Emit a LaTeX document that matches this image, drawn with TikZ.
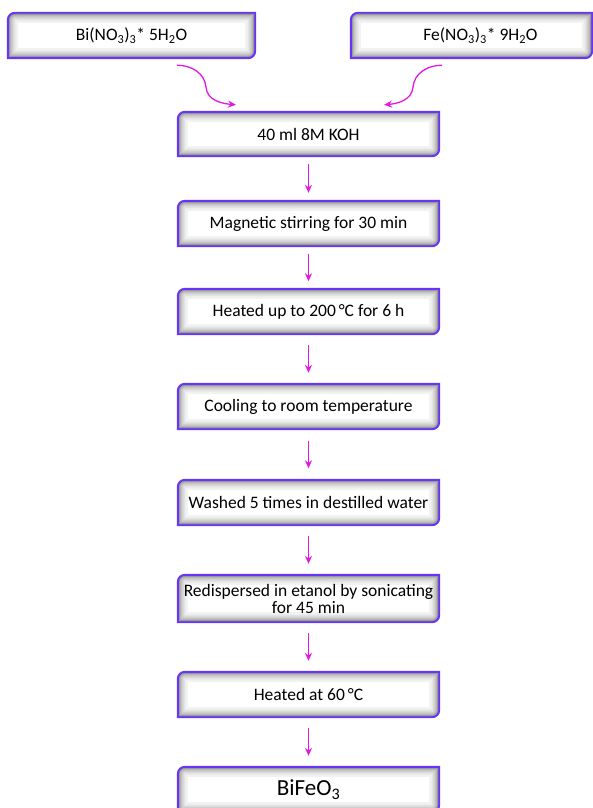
\documentclass[tikz,border=0pt]{standalone}
\usepackage{fontspec}
\setmainfont{Carlito}
\usepackage{tikz}
\usepackage{xcolor}
\usetikzlibrary{arrows.meta,backgrounds}

\definecolor{boxedge}{RGB}{104,52,250}
\definecolor{flowpink}{RGB}{226,24,226}

\tikzset{
    stepbox/.style={minimum width=261pt, minimum height=45pt, inner sep=0pt, align=center,
        font=\fontsize{17.5}{17}\selectfont},
    boxoutline/.style={insert path={(#1.south west) -- ([yshift=-7pt]#1.north west)
        arc[start angle=180,end angle=90,radius=7pt] -- (#1.north east)
        -- ([yshift=7pt]#1.south east) arc[start angle=0,end angle=-90,radius=7pt] -- cycle}},
    flow/.style={draw=flowpink, line width=1.3pt, -{Stealth[length=8pt,width=7pt]}},
}

\begin{document}
\begin{tikzpicture}[x=1pt,y=1pt]
    \useasboundingbox (0,0) rectangle (593,-808);

    \node[stepbox, minimum width=247pt] (bi) at (131.5,-35.5) {Bi(NO\textsubscript{3})\textsubscript{3}* 5H\textsubscript{2}O};
    \node[stepbox, minimum width=241pt] (fe) at (471.5,-35.5) {\hspace*{18pt}Fe(NO\textsubscript{3})\textsubscript{3}* 9H\textsubscript{2}O};
    \node[stepbox, minimum height=44pt] (koh) at (308.5,-134) {40 ml 8M KOH};
    \node[stepbox] (stir) at (308.5,-223.5) {Magnetic stirring for 30 min};
    \node[stepbox] (heat) at (308.5,-311.5) {Heated up to 200\,°C for 6 h};
    \node[stepbox] (cool) at (308.5,-406.5) {Cooling to room temperature};
    \node[stepbox] (wash) at (308.5,-502.5) {Washed 5 times in destilled water};
    \node[stepbox, minimum height=47pt] (redisp) at (308.5,-598.5) {Redispersed in etanol by sonicating\\for 45 min};
    \node[stepbox] (dry) at (308.5,-694.5) {Heated at 60\,°C};
    \node[stepbox, font=\fontsize{23}{23}\selectfont] (bfo) at (308.5,-789.5) {BiFeO\textsubscript{3}};

    \begin{pgfonlayer}{background}
        \foreach \n in {bi,fe,koh,stir,heat,cool,wash,redisp,dry,bfo} {
            \begin{scope}
                \clip[boxoutline=\n];
                \fill[white, boxoutline=\n];
                \foreach \w/\g in {20/5, 15/11, 11/19, 7/29, 4/40, 2/50}
                    \draw[line width=\w pt, black!\g, boxoutline=\n];
            \end{scope}
            \draw[boxedge, line width=1.9pt, boxoutline=\n];
        }
    \end{pgfonlayer}

    \coordinate (bitail) at ([xshift=45.5pt,yshift=-7pt]bi.south);
    \coordinate (fetail) at ([xshift=-29.5pt,yshift=-7pt]fe.south);
    \coordinate (bihead) at ([xshift=-72.5pt,yshift=7pt]koh.north);
    \coordinate (fehead) at ([xshift=75.5pt,yshift=7pt]koh.north);
    \draw[flow] (bitail) to[out=0,in=95] ++(29,-22) to[out=-85,in=175] (bihead);
    \draw[flow] (fetail) to[out=180,in=85] ++(-29,-22) to[out=-95,in=5] (fehead);

    \foreach \a/\b/\s in {koh/stir/8, stir/heat/7.5, heat/cool/11, cool/wash/11.5,
        wash/redisp/11, redisp/dry/11, dry/bfo/11}
        \draw[flow, shorten <=\s pt, shorten >=\s pt] (\a) -- (\b);
\end{tikzpicture}
\end{document}
